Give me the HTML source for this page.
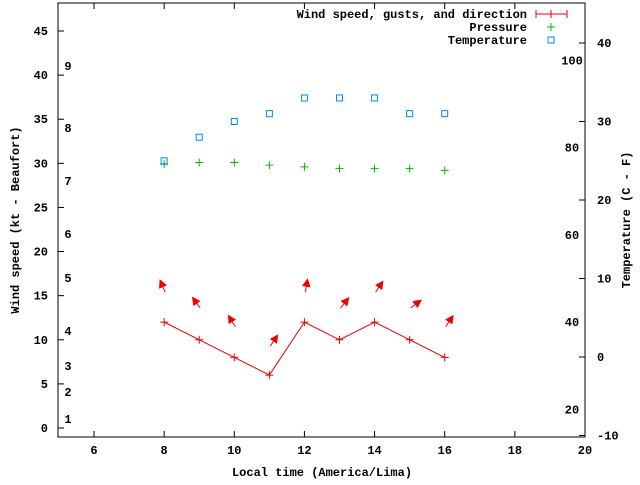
<!DOCTYPE html>
<html><head><meta charset="utf-8"><style>
body{margin:0;background:#fff}
text{font-family:"Liberation Mono","DejaVu Sans Mono",monospace;font-size:12px;font-weight:bold;fill:#000}
</style></head><body>
<svg id="chart" width="640" height="480" xmlns="http://www.w3.org/2000/svg">
<g id="axes"></g><g id="marks"></g>
</svg>
<script>
const hours=[8,9,10,11,12,13,14,15,16];
const windSpeed=[12,10,8,6,12,10,12,10,8];
const windGust=[15.4,13.6,11.5,9.3,15.4,13.6,15.4,13.6,11.5];
const windDir=[-23,-36,-32,34,9,39,34,53,34];
const pressure=[29.9,30.1,30.1,29.8,29.6,29.4,29.4,29.4,29.2];
const temperature=[25,28,30,31,33,33,33,31,31];
const xTicks=[6,8,10,12,14,16,18,20];
const yTicks=[0,5,10,15,20,25,30,35,40,45];
const y2Ticks=[-10,0,10,20,30,40];
const beaufortLabels=[[1,419],[2,392],[3,366],[4,331],[5,278],[6,234],[7,181],[8,128],[9,66]];
const fahrLabels=[20,40,60,80,100];

const L=58,R=585,T=3,B=437;
const X=v=>94+(v-6)*(585-94)/14;
const Y=v=>428-v*(428-31)/45;
const Y2=v=>357-v*7.85;
const NS="http://www.w3.org/2000/svg";
const ax=document.getElementById('axes'),mk=document.getElementById('marks');
function el(p,t,a){const e=document.createElementNS(NS,t);for(const k in a)e.setAttribute(k,a[k]);p.appendChild(e);return e;}

let frame=el(ax,'rect',{x:L,y:T,width:R-L,height:B-T,fill:'none',stroke:'#000','stroke-width':1});


xTicks.forEach(v=>{
  const x=X(v);
  el(ax,'line',{x1:x,y1:B,x2:x,y2:B-6,stroke:'#000'});
  el(ax,'line',{x1:x,y1:T,x2:x,y2:T+6,stroke:'#000'});
  const t=el(ax,'text',{x:x,y:B+17,'text-anchor':'middle'});t.textContent=v;
  
  
});
yTicks.forEach(v=>{
  const y=Y(v);
  el(ax,'line',{x1:L,y1:y,x2:L+6,y2:y,stroke:'#000'});
  const t=el(ax,'text',{x:L-10,y:y+4,'text-anchor':'end'});t.textContent=v;
  
  
});
y2Ticks.forEach(v=>{
  const y=Y2(v);
  el(ax,'line',{x1:R,y1:y,x2:R-6,y2:y,stroke:'#000'});
  const t=el(ax,'text',{x:R+12,y:y+4,'text-anchor':'start'});t.textContent=v;
  
  
});
beaufortLabels.forEach(b=>{
  const t=el(ax,'text',{x:68,y:b[1]+4,'text-anchor':'middle'});t.textContent=b[0];
  
  
});
fahrLabels.forEach(f=>{
  const c=(f-32)*5/9;
  const t=el(ax,'text',{x:572,y:Y2(c)+4,'text-anchor':'middle'});t.textContent=f;
  
  
});
let xt=el(ax,'text',{x:322,y:476,'text-anchor':'middle'});xt.textContent='Local time (America/Lima)';


let yt=el(ax,'text',{x:0,y:0,'text-anchor':'middle',transform:'translate(19,220) rotate(-90)'});yt.textContent='Wind speed (kt - Beaufort)';


let y2t=el(ax,'text',{x:0,y:0,'text-anchor':'middle',transform:'translate(630,220) rotate(-90)'});y2t.textContent='Temperature (C - F)';



// legend
const lg=[['Wind speed, gusts, and direction',14],['Pressure',27],['Temperature',40]];
lg.forEach(l=>{const t=el(ax,'text',{x:527,y:l[1]+4,'text-anchor':'end'});t.textContent=l[0];
  
  });
el(ax,'line',{x1:536,y1:14,x2:567,y2:14,stroke:'#e00'});
el(ax,'line',{x1:536,y1:10,x2:536,y2:18,stroke:'#e00'});
el(ax,'line',{x1:567,y1:10,x2:567,y2:18,stroke:'#e00'});
el(ax,'line',{x1:551,y1:10,x2:551,y2:18,stroke:'#e00'});
el(ax,'line',{x1:547,y1:27,x2:555,y2:27,stroke:'#0b0'});
el(ax,'line',{x1:551,y1:23,x2:551,y2:31,stroke:'#0b0'});
el(ax,'rect',{x:548,y:37,width:6,height:6,fill:'none',stroke:'#08f'});

// wind line
const pts=hours.map((h,i)=>X(h)+','+Y(windSpeed[i])).join(' ');
let wl=el(mk,'polyline',{points:pts,fill:'none',stroke:'#e00'});


hours.forEach((h,i)=>{
  const x=X(h),y=Y(windSpeed[i]);
  let p=el(mk,'path',{d:`M${x-4},${y}h8M${x},${y-4}v8`,stroke:'#e00'});
  
  
  // arrow
  const a=windDir[i]*Math.PI/180,len=13;
  const tx=x+1,ty=Y(windGust[i]);
  const hx=tx+len*Math.sin(a),hy=ty-len*Math.cos(a);
  const ux=Math.sin(a),uy=-Math.cos(a);
  const bx=hx-7*ux,by=hy-7*uy;
  let g=el(mk,'g',{});
  
  
  el(g,'line',{x1:tx,y1:ty,x2:bx,y2:by,stroke:'#e00'});
  el(g,'polygon',{points:`${hx},${hy} ${bx-3.5*uy},${by+3.5*ux} ${bx+3.5*uy},${by-3.5*ux}`,fill:'#e00',stroke:'#e00'});
  // pressure
  const py=Y(pressure[i]);
  let pp=el(mk,'path',{d:`M${x-4},${py}h8M${x},${py-4}v8`,stroke:'#0b0'});
  
  
  // temperature
  let tr=el(mk,'rect',{x:x-3,y:Y2(temperature[i])-3,width:6,height:6,fill:'none',stroke:'#08f'});
  
  
});
</script>
</body></html>
